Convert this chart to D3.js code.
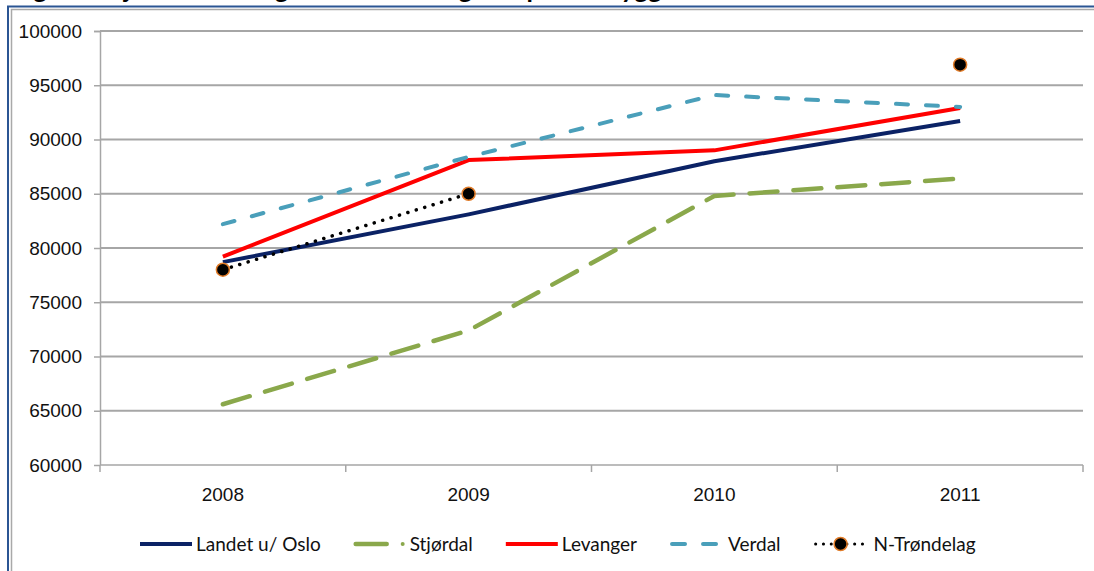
<!DOCTYPE html>
<html>
<head>
<meta charset="utf-8">
<script src="https://cdn.jsdelivr.net/npm/d3@7"></script>
<style>
  body { margin: 0; background: #fff; }
  svg { display: block; font-family: Lato, "Open Sans", sans-serif; }
  .grid line { stroke: #a6a6a6; stroke-width: 2; }
  .axis path, .axis line { stroke: #a6a6a6; stroke-width: 1.5; }
  .axis text { fill: #111; font-size: 19px; }
</style>
</head>
<body>
<script>
"use strict";

// data
var years = ["2008", "2009", "2010", "2011"];
var yTicks = [60000, 65000, 70000, 75000, 80000, 85000, 90000, 95000, 100000];
var seriesNames = ["Landet u/ Oslo", "Stjørdal", "Levanger", "Verdal", "N-Trøndelag"];
var landet    = [78700, 83100, 88000, 91700];
var stjordal  = [65600, 72400, 84800, 86400];
var levanger  = [79200, 88100, 89000, 92900];
var verdal    = [82200, 88400, 94100, 93000];
var ntrondelag = [78000, 85000, null, 96900];

var styles = [
  {color: "#0b2265", width: 4,   dash: null,      cap: "butt"},
  {color: "#8aa84b", width: 4.5, dash: "28,16",   cap: "round"},
  {color: "#ff0000", width: 4,   dash: null,      cap: "butt"},
  {color: "#4a9fba", width: 4,   dash: "12,18",   cap: "round"},
  {color: "#000000", width: 3.5, dash: "0.1,8.7", cap: "round"}
];
var allValues = [landet, stjordal, levanger, verdal, ntrondelag];

var W = 1094, H = 571;
var margin = {top: 31, right: 11, bottom: 106, left: 100},
    width = W - margin.left - margin.right,
    height = H - margin.top - margin.bottom;

var svg = d3.select("body").append("svg")
    .attr("width", W)
    .attr("height", H);

// title, cut off at the top edge like in the original
svg.append("text")
    .attr("x", 12)
    .attr("y", -2)
    .attr("font-weight", "bold")
    .attr("font-size", 26)
    .attr("fill", "#000")
    .text("Figur 3: Gjennomsnittlig brutto driftsutgifter per innbygger");

// frame
svg.append("path").attr("d", "M8,571 V6.5 H1094").attr("fill", "none").attr("stroke", "#2b5593").attr("stroke-width", 2);
svg.append("path").attr("d", "M11.5,571 V9.5 H1094").attr("fill", "none").attr("stroke", "#a9a9a9").attr("stroke-width", 1.5);

var view = svg.append("g")
    .attr("transform", "translate(" + margin.left + "," + margin.top + ")");

var x = d3.scaleBand().domain(years).range([0, width]);
var y = d3.scaleLinear().domain([60000, 100000]).range([height, 0]);

// gridlines
view.append("g")
    .attr("class", "grid")
  .selectAll("line")
  .data(yTicks.slice(1))
  .enter().append("line")
    .attr("x1", 0).attr("x2", width)
    .attr("y1", function(d){ return y(d); })
    .attr("y2", function(d){ return y(d); });

// y axis
var gY = view.append("g")
    .attr("class", "axis")
    .call(d3.axisLeft(y).tickValues(yTicks).tickSize(6).tickPadding(12).tickFormat(d3.format("d")));
gY.select(".domain").attr("d", "M-6,0.5H0.5V" + height);

// x axis, ticks between categories
var gX = view.append("g")
    .attr("class", "axis")
    .attr("transform", "translate(0," + height + ")")
    .call(d3.axisBottom(x).tickSize(0).tickPadding(23));
gX.select(".domain").attr("d", "M0,0H" + width).attr("stroke-width", 2);
gX.selectAll(".sep")
  .data(d3.range(years.length + 1))
  .enter().append("line")
    .attr("class", "sep")
    .attr("x1", function(i){ return i * x.step(); })
    .attr("x2", function(i){ return i * x.step(); })
    .attr("y1", 0).attr("y2", 7);

var line = d3.line()
    .defined(function(d){ return d != null; })
    .x(function(d, i){ return x(years[i]) + x.bandwidth() / 2; })
    .y(function(d){ return y(d); });

allValues.forEach(function(vals, k){
  var s = styles[k];
  view.append("path")
      .datum(vals)
      .attr("fill", "none")
      .attr("stroke", s.color)
      .attr("stroke-width", s.width)
      .attr("stroke-dasharray", s.dash)
      .attr("stroke-linecap", s.cap)
      .attr("stroke-linejoin", "round")
      .attr("d", line);
});

// N-Trøndelag markers
view.selectAll(".marker")
  .data(ntrondelag.map(function(v, i){ return {year: years[i], value: v}; })
        .filter(function(d){ return d.value != null; }))
  .enter().append("circle")
    .attr("class", "marker")
    .attr("cx", function(d){ return x(d.year) + x.bandwidth() / 2; })
    .attr("cy", function(d){ return y(d.value); })
    .attr("r", 6.5)
    .attr("fill", "#000")
    .attr("stroke", "#e07b28")
    .attr("stroke-width", 1.5);

// legend
var legend = svg.append("g").attr("transform", "translate(140,544)");
var lx = 0;
seriesNames.forEach(function(name, k){
  var s = styles[k];
  var item = legend.append("g").attr("transform", "translate(" + lx + ",0)");
  var sw = 52;
  if (k == 1) {
    item.append("line").attr("x1", 2).attr("x2", 33).attr("y1", 0).attr("y2", 0)
        .attr("stroke", s.color).attr("stroke-width", s.width).attr("stroke-linecap", "round");
    item.append("circle").attr("cx", 49).attr("cy", 0).attr("r", 2).attr("fill", s.color);
    sw = 52;
  } else if (k == 3) {
    item.append("line").attr("x1", 2).attr("x2", 50).attr("y1", 0).attr("y2", 0)
        .attr("stroke", s.color).attr("stroke-width", s.width).attr("stroke-dasharray", "13,18")
        .attr("stroke-linecap", "round");
    sw = 54;
  } else if (k == 4) {
    item.append("line").attr("x1", 2).attr("x2", 50).attr("y1", 0).attr("y2", 0)
        .attr("stroke", s.color).attr("stroke-width", 3).attr("stroke-dasharray", "0.1,7.7")
        .attr("stroke-linecap", "round");
    item.append("circle").attr("cx", 27).attr("cy", 0).attr("r", 6.5)
        .attr("fill", "#000").attr("stroke", "#e07b28").attr("stroke-width", 1.5);
    sw = 56;
  } else {
    item.append("line").attr("x1", 0).attr("x2", 52).attr("y1", 0).attr("y2", 0)
        .attr("stroke", s.color).attr("stroke-width", s.width);
  }
  var t = item.append("text")
      .attr("x", sw + 4)
      .attr("dy", "0.35em")
      .attr("font-size", 19)
      .attr("fill", "#111")
      .text(name);
  lx += sw + 4 + t.node().getComputedTextLength() + 33;
});
</script>
</body>
</html>
